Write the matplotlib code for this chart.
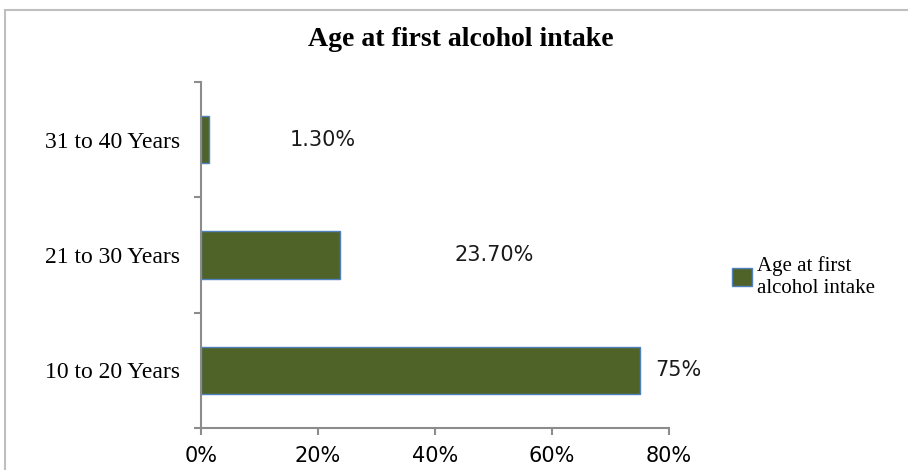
import matplotlib
matplotlib.use("Agg")
import matplotlib.pyplot as plt
from matplotlib.patches import Rectangle

# data
categories = ["10 to 20 Years", "21 to 30 Years", "31 to 40 Years"]
values = [75.0, 23.7, 1.3]
value_labels = ["75%", "23.70%", "1.30%"]
x_ticks = [0, 20, 40, 60, 80]
x_tick_labels = ["0%", "20%", "40%", "60%", "80%"]
series_name = "Age at first alcohol intake"

# label offsets from bar end (points), as Excel placed them
label_offsets = [11, 83, 58]

bar_color = "#4F6228"
edge_color = "#4F81BD"
axis_gray = "#8C8C8C"

fig = plt.figure(figsize=(9.08, 4.70), dpi=100)
ax = fig.add_axes([0.2214, 0.0894, 0.7368 - 0.2214, 0.8255 - 0.0894])

# outer chart border (runs off the right and bottom edges)
fig.patches.append(Rectangle((5 / 908, -0.2), 1.5, 1.2 - 10 / 470, transform=fig.transFigure,
                             fill=False, edgecolor="#BFBFBF", linewidth=1.5))

ypos = list(range(len(categories)))
ax.barh(ypos, values, height=0.41, color=bar_color, edgecolor=edge_color, linewidth=1.0,
        label=series_name)

for y, v, lab, off in zip(ypos, values, value_labels, label_offsets):
    ax.annotate(lab, (v, y), xytext=(off, 0), textcoords="offset points",
                va="center", ha="left", fontsize=15, family="DejaVu Sans", color="#1a1a1a")

ax.set_xlim(0, 80)
ax.set_ylim(-0.5, 2.5)
ax.set_xticks(x_ticks)
ax.set_xticklabels(x_tick_labels, fontsize=15, family="DejaVu Sans")
ax.set_yticks(ypos)
ax.set_yticklabels(categories, fontsize=17, family="Liberation Serif")
ax.set_yticks([-0.5, 0.5, 1.5, 2.5], minor=True)
ax.tick_params(axis="y", which="major", length=0, pad=15)
ax.tick_params(axis="y", which="minor", length=5, color=axis_gray, width=1.5)
ax.tick_params(axis="x", length=5, color=axis_gray, width=1.5, pad=8)

for s in ["top", "right"]:
    ax.spines[s].set_visible(False)
for s in ["left", "bottom"]:
    ax.spines[s].set_color(axis_gray)
    ax.spines[s].set_linewidth(1.5)

fig.text(0.508, 0.915, "Age at first alcohol intake", ha="center", va="center",
         fontsize=20, fontweight="bold", family="Liberation Serif")

fig.legend(loc="center left", bbox_to_anchor=(0.785, 0.41), frameon=False,
           labels=["Age at first\nalcohol intake"], handles=ax.patches[:1],
           prop={"family": "Liberation Serif", "size": 15},
           handlelength=1.0, handleheight=1.0, handletextpad=0.2, labelspacing=0)

fig.savefig("out.png", dpi=100)
